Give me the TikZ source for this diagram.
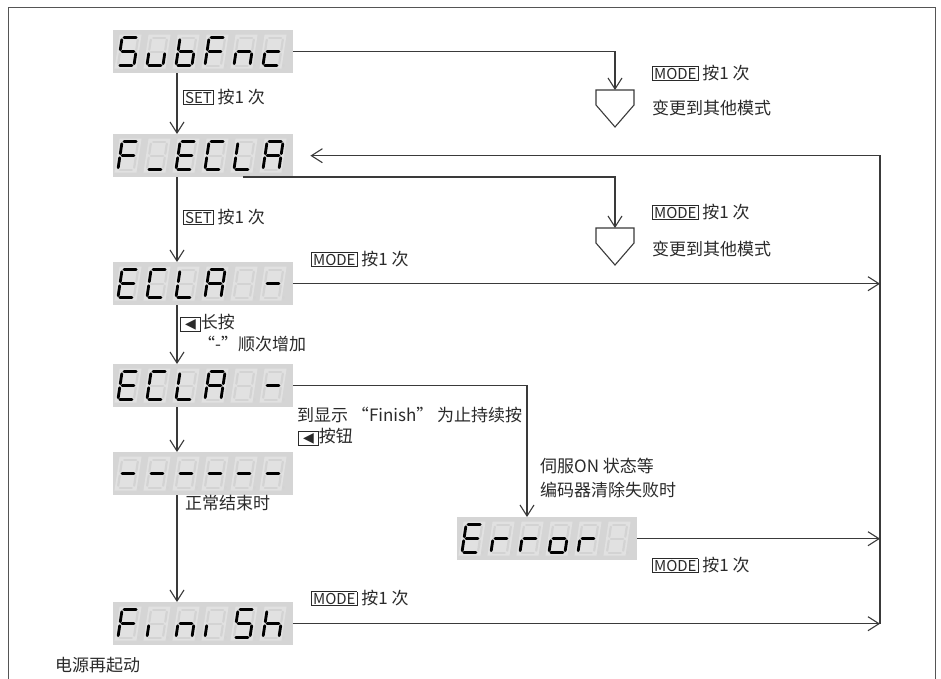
\documentclass[tikz,border=0pt]{standalone}
\usepackage{fontspec}
\setmainfont{Noto Sans CJK SC}
\newfontfamily\dejavu{DejaVu Sans}
\usetikzlibrary{arrows.meta,calc}
\definecolor{dispgray}{HTML}{D5D5D5}
\definecolor{cellc}{HTML}{E1E1E1}
\definecolor{ghostc}{HTML}{D3D3D3}
\definecolor{linec}{HTML}{3A3A3A}
\definecolor{txtc}{HTML}{2A2A2A}
\definecolor{framec}{HTML}{555555}
\setlength{\fboxsep}{1pt}
\setlength{\fboxrule}{0.9pt}
\newcommand\kb[1]{\fbox{\fontsize{15}{15}\selectfont #1}}
\newcommand\kbtri{\fbox{\hspace{3pt}{\dejavu\fontsize{14}{14}\selectfont ◀}\hspace{3pt}}}
\def\XA{{-6,8,8,-6,-8,-8,-6}}
\def\YA{{-14,-12,2,14,2,-12,0}}
\def\XB{{6,8,8,6,-8,-8,6}}
\def\YB{{-14,-2,12,14,12,-2,0}}
\newcommand\dcell[3]{%
  \begin{scope}[shift={(#1,#2)},xslant=0.15]
    \fill[cellc] (-11,-17) rectangle (11,17);
    \foreach \s in {0,...,6}{\draw[ghost] ({\XA[\s]},{\YA[\s]}) -- ({\XB[\s]},{\YB[\s]});}
    \fill[ghostc] (12.5,14) circle[radius=1.4pt];
    \edef\seglist{#3}%
    \foreach \s in \seglist {\ifnum\s<7 \draw[lit] ({\XA[\s]},{\YA[\s]}) -- ({\XB[\s]},{\YB[\s]});\fi}
  \end{scope}}
\newcommand\disp[4]{%
  \node[disp] (#1) at (#2,#3) {};
  \begin{scope}[shift={(#1.west)}]
    \foreach \sg [count=\i from 0] in {#4}{\dcell{15+29*\i}{0}{\sg}}
  \end{scope}}
\tikzset{
  disp/.style={rectangle, fill=dispgray, minimum width=180pt, minimum height=43pt, inner sep=0pt, anchor=north west},
  lit/.style={line width=2.8pt, line cap=round, black},
  ghost/.style={line width=2.2pt, line cap=round, ghostc},
  conn/.style={line width=1.1pt, draw=linec},
  arr/.style={conn, -{Straight Barb[length=11pt,width=14pt,line width=1.1pt]}},
  lbl/.style={font=\fontsize{17}{19}\selectfont, text=txtc, inner sep=0pt, anchor=west},
  pent/.style={conn, fill=white, line join=miter},
}
\begin{document}
\begin{tikzpicture}[x=1pt,y=-1pt]
\useasboundingbox (0,0) rectangle (941,679);
\fill[white] (0,0) rectangle (941,679);
\draw[framec, line width=1pt] (8,679) -- (8,8) -- (935,8) -- (935,679);

% displays
\disp{s1}{113}{30}{{0,5,6,2,3},{2,3,4},{5,4,6,2,3},{0,5,4,6},{4,6,2},{6,4,3}}
\disp{s2}{113}{134}{{0,5,4,6},{3},{0,5,6,4,3},{0,5,4,3},{5,4,3},{0,1,2,4,5,6}}
\disp{s3}{113}{262}{{0,5,6,4,3},{0,5,4,3},{5,4,3},{0,1,2,4,5,6},{7},{6}}
\disp{s4}{113}{364}{{0,5,6,4,3},{0,5,4,3},{5,4,3},{0,1,2,4,5,6},{7},{6}}
\disp{s5}{113}{452}{{6},{6},{6},{6},{6},{6}}
\disp{s6}{457}{517}{{0,5,6,4,3},{4,6},{4,6},{6,2,3,4},{4,6},{7}}
\disp{s7}{113}{602}{{0,5,4,6},{4},{4,6,2},{4},{0,5,6,2,3},{5,4,6,2}}

% helper coordinates
\coordinate (vx) at (177,0);
\coordinate (rx) at (880,0);
\coordinate (ex) at (527,0);
\coordinate (p1) at (615,90);
\coordinate (p2) at (615,228);
\coordinate (c2) at (243,177);

% pentagons
\draw[pent] (p1) -- ++(19,0) -- ++(0,15) -- ++(-19,22) -- ++(-19,-22) -- ++(0,-15) -- cycle;
\draw[pent] (p2) -- ++(19,0) -- ++(0,15) -- ++(-19,22) -- ++(-19,-22) -- ++(0,-15) -- cycle;

% left chain
\draw[arr] (s1.south -| vx) -- (s2.north -| vx);
\draw[arr] (s2.south -| vx) -- (s3.north -| vx);
\draw[arr] (s3.south -| vx) -- (s4.north -| vx);
\draw[arr] (s4.south -| vx) -- (s5.north -| vx);
\draw[arr] (s5.south -| vx) -- (s7.north -| vx);

% mode branches
\draw[arr] (s1.east) -- (s1.east -| p1) -- (p1);
\draw[arr] (c2) -- (c2 -| p2) -- (p2);
\draw[arr] (s3.east) -- (s3.east -| rx);
\draw[arr] (s6.east) -- (s6.east -| rx);
\draw[arr] (s7.east) -- (s7.east -| rx);
\draw[arr, shorten >=17pt] (s7.east -| rx) -- (s2.east -| rx) -- (s2.east);
\draw[arr] (s4.east) -- (s4.east -| ex) -- (s6.north -| ex);

% labels
\node[lbl] (t1) at (183,97) {\kb{SET}\ 按1 次};
\node[lbl] (t2) at (183,217) {\kb{SET}\ 按1 次};
\node[lbl] (t3) at (311,259) {\kb{MODE}\ 按1 次};
\node[lbl] (t4) at (180,323) {\kbtri 长按};
\node[lbl] (t5) at (198,344) {“-”顺次增加};
\node[lbl] (t6) at (297,415) {到显示 “Finish” 为止持续按};
\node[lbl] (t7) at (298,437) {\kbtri 按钮};
\node[lbl] (t8) at (185,503) {正常结束时};
\node[lbl] (t9) at (540,466) {伺服ON 状态等};
\node[lbl] (t10) at (540,490) {编码器清除失败时};
\node[lbl] (t11) at (652,565) {\kb{MODE}\ 按1 次};
\node[lbl] (t12) at (311,598) {\kb{MODE}\ 按1 次};
\node[lbl] (t13) at (55,665) {电源再起动};
\node[lbl] (t14) at (652,73) {\kb{MODE}\ 按1 次};
\node[lbl] (t15) at (652,108) {变更到其他模式};
\node[lbl] (t16) at (652,212) {\kb{MODE}\ 按1 次};
\node[lbl] (t17) at (652,249) {变更到其他模式};
\end{tikzpicture}
\end{document}
